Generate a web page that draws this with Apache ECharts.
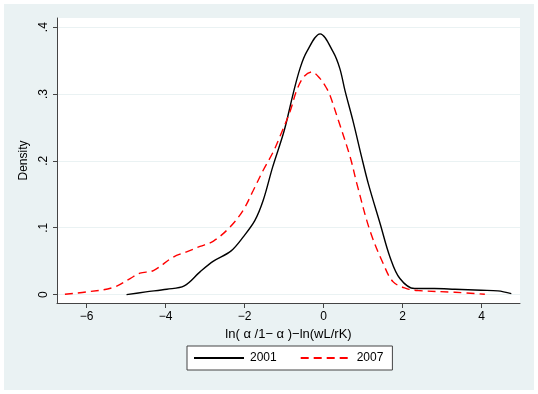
<!DOCTYPE html>
<html><head><meta charset="utf-8">
<script src="https://cdn.jsdelivr.net/npm/echarts@6/dist/echarts.min.js"></script>
<style>html,body{margin:0;padding:0;background:#fff}#c{width:538px;height:394px}</style>
</head><body><div id="c"></div>
<script>
const seriesNames = ['2001', '2007'];
const x2001 = [-4.99, -4.5, -3.97, -3.53, -3.13, -2.79, -2.35, -2.04, -1.74, -1.53, -1.29, -1.0, -0.77, -0.60, -0.43, -0.09, 0.24, 0.41, 0.54, 0.75, 0.96, 1.13, 1.43, 1.68, 1.93, 2.3, 2.8, 3.32, 3.99, 4.41, 4.75];
const y2001 = [0, 0.004, 0.008, 0.013, 0.034, 0.050, 0.065, 0.086, 0.111, 0.141, 0.191, 0.245, 0.301, 0.338, 0.363, 0.39, 0.363, 0.338, 0.305, 0.258, 0.206, 0.166, 0.106, 0.056, 0.024, 0.009, 0.009, 0.008, 0.0065, 0.0055, 0.0015];
const x2007 = [-6.55, -6.0, -5.33, -4.90, -4.65, -4.31, -3.81, -3.47, -3.13, -2.79, -2.37, -2.04, -1.78, -1.53, -1.28, -1.11, -0.85, -0.68, -0.50, -0.30, -0.09, 0.08, 0.16, 0.37, 0.67, 0.84, 1.17, 1.51, 1.76, 2.10, 2.39, 3.32, 4.08];
const y2007 = [0.0005, 0.004, 0.0105, 0.024, 0.032, 0.036, 0.056, 0.064, 0.072, 0.080, 0.101, 0.126, 0.156, 0.186, 0.213, 0.236, 0.274, 0.306, 0.326, 0.333, 0.323, 0.308, 0.298, 0.261, 0.206, 0.166, 0.096, 0.046, 0.019, 0.009, 0.006, 0.0035, 0.0005];
const xTicks = [-6, -4, -2, 0, 2, 4];
const xTickLabels = ['\u22126', '\u22124', '\u22122', '0', '2', '4'];
const yTicks = [0, 0.1, 0.2, 0.3, 0.4];
const yTickLabels = ['0', '.1', '.2', '.3', '.4'];
const xTitle = 'ln( \u03b1 /1\u2212 \u03b1 )\u2212ln(wL/rK)';
const yTitle = 'Density';

const pair = (xs, ys) => xs.map((x, i) => [x, ys[i]]);
const bg = '#EAF2F3';
const font = 'Liberation Sans, Arial, sans-serif';
const chart = echarts.init(document.getElementById('c'), null, {renderer: 'canvas'});
chart.setOption({
  animation: false,
  backgroundColor: '#fff',
  graphic: [{type: 'rect', z: -10, shape: {x: 4, y: 4, width: 530, height: 386}, style: {fill: bg}}],
  grid: {left: 57, right: 18, top: 18, bottom: 91, show: true, backgroundColor: '#fff', borderWidth: 0},
  xAxis: {
    type: 'value', min: -6.75, max: 4.97,
    name: xTitle, nameLocation: 'middle', nameGap: 22,
    nameTextStyle: {fontFamily: font, fontSize: 13, color: '#000'},
    axisLine: {show: true, onZero: false, lineStyle: {color: '#444', width: 1}},
    axisTick: {show: true, length: 5, customValues: xTicks, lineStyle: {color: '#444'}},
    axisLabel: {customValues: xTicks, margin: 8, fontFamily: font, fontSize: 12, color: '#000',
      formatter: v => xTickLabels[xTicks.indexOf(Math.round(v))] ?? ''},
    splitLine: {show: false}
  },
  yAxis: {
    type: 'value', min: -0.0126, max: 0.4137,
    name: yTitle, nameLocation: 'middle', nameGap: 17, nameRotate: 90,
    nameTextStyle: {fontFamily: font, fontSize: 12, color: '#000'},
    axisLine: {show: true, onZero: false, lineStyle: {color: '#444', width: 1}},
    axisTick: {show: true, length: 4, customValues: yTicks, lineStyle: {color: '#444'}},
    axisLabel: {customValues: yTicks, rotate: 90, margin: 7, fontFamily: font, fontSize: 12, color: '#000',
      formatter: v => yTickLabels[yTicks.findIndex(t => Math.abs(t - v) < 1e-6)] ?? ''},
    splitLine: {show: true, lineStyle: {color: bg, width: 1}}
  },
  legend: {
    left: 187, top: 346, orient: 'horizontal',
    backgroundColor: '#fff', borderColor: '#444', borderWidth: 1,
    padding: [6, 9, 6, 6], itemWidth: 50, itemHeight: 12, itemGap: 23,
    itemStyle: {opacity: 0},
    textStyle: {fontFamily: font, fontSize: 12, color: '#000', padding: [0, 0, 0, 1]},
    data: seriesNames
  },
  series: [
    {name: seriesNames[0], type: 'line', data: pair(x2001, y2001), smooth: 0.35, symbol: 'none',
      lineStyle: {color: '#000', width: 1.4}, itemStyle: {color: '#000'}},
    {name: seriesNames[1], type: 'line', data: pair(x2007, y2007), smooth: 0.35, symbol: 'none',
      lineStyle: {color: '#FF0000', width: 1.4, type: [8, 5]}, itemStyle: {color: '#FF0000'}}
  ]
});
</script></body></html>
